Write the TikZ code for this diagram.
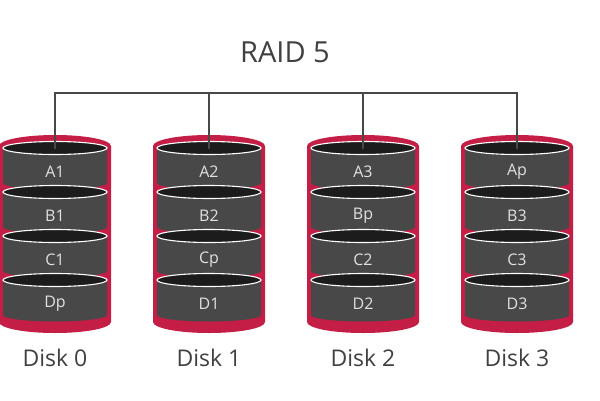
\documentclass[tikz,border=0pt]{standalone}
\usepackage{fontspec}
\setmainfont{Open Sans}
\definecolor{diskred}{RGB}{196,30,70}
\definecolor{platgray}{RGB}{72,72,72}
\definecolor{platdark}{RGB}{28,28,28}
\definecolor{linegray}{RGB}{72,72,72}
\definecolor{txtgray}{RGB}{64,64,64}
\definecolor{lbl}{RGB}{225,225,225}
\tikzset{
  redbody/.style={fill=diskred},
  platbody/.style={fill=platgray},
  platrim/.style={fill=platdark,draw=white,line width=1.1pt},
  plabel/.style={text=lbl,font=\fontsize{16}{18}\selectfont,inner sep=0pt},
  dlabel/.style={text=txtgray,font=\fontsize{23}{26}\selectfont,inner sep=0pt},
  title/.style={text=txtgray,font=\fontsize{29}{32}\selectfont,inner sep=0pt},
  bus/.style={draw=linegray,line width=2pt}
}
\begin{document}
\begin{tikzpicture}[x=1pt,y=1pt]
\useasboundingbox[fill=white] (0,0) rectangle (600,-400);
\node[title] (title) at (285,-52) {RAID 5};
\foreach \i/\cx/\la/\lb/\lc/\ld in {0/55/A1/B1/C1/Dp,1/209/A2/B2/Cp/D1,2/363/A3/Bp/C2/D2,3/517/Ap/B3/C3/D3}{
  \fill[redbody] (\cx-56,-146) -- (\cx-56,-322)
     arc[start angle=180,end angle=360,x radius=56,y radius=11]
     -- (\cx+56,-146)
     arc[start angle=0,end angle=180,x radius=56,y radius=11] -- cycle;
  \foreach \j/\t in {0/\la,1/\lb,2/\lc,3/\ld}{
    \pgfmathsetmacro{\ty}{-148-44*\j}
    \fill[platbody] (\cx-52,\ty) -- (\cx-52,\ty-35)
       arc[start angle=180,end angle=360,x radius=52,y radius=6.5]
       -- (\cx+52,\ty) -- cycle;
    \draw[platrim] (\cx,\ty) ellipse[x radius=52,y radius=6.5];
    \node[plabel] (p\i\j) at (\cx,\ty-24) {\t};
  }
  \coordinate (top\i) at (\cx,-149);
  \coordinate (bus\i) at (\cx,-93);
  \node[dlabel] (disk\i) at (\cx,-358) {Disk \i};
}
\draw[bus] (top0) -- (bus0) -- (bus3) -- (top3);
\draw[bus] (bus1) -- (top1);
\draw[bus] (bus2) -- (top2);
\end{tikzpicture}
\end{document}
